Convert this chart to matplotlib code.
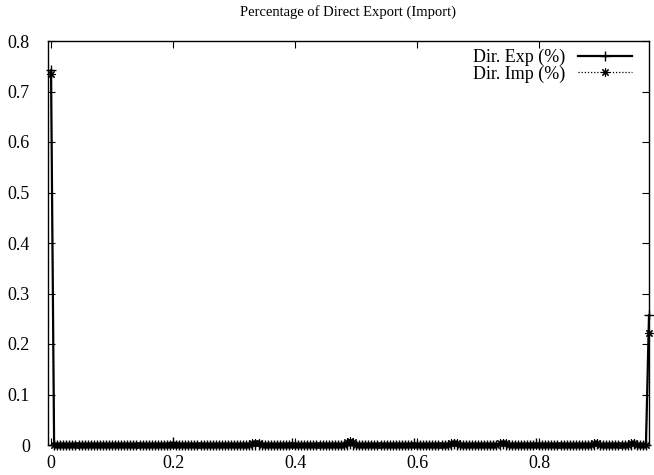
import numpy as np
import matplotlib
matplotlib.use("Agg")
from matplotlib import pyplot as plt
from matplotlib.ticker import FuncFormatter

# share of direct export / import, sampled on a grid from 0 to 0.98
x_step = 0.005
exp_pct = [
    0.742, 0, 0, 0, 0, 0, 0, 0, 0, 0, 0, 0, 0, 0, 0, 0, 0, 0, 0, 0,
    0, 0, 0, 0, 0, 0, 0, 0, 0, 0, 0, 0, 0, 0, 0, 0, 0, 0, 0, 0,
    0.005, 0, 0, 0, 0, 0, 0, 0, 0, 0, 0, 0, 0, 0, 0, 0, 0, 0, 0, 0,
    0, 0, 0, 0, 0, 0, 0, 0, 0, 0, 0, 0, 0, 0, 0, 0, 0, 0, 0, 0.004,
    0, 0, 0, 0, 0, 0, 0, 0, 0, 0, 0, 0, 0, 0, 0, 0, 0, 0, 0.002, 0,
    0, 0, 0, 0, 0, 0, 0, 0, 0, 0, 0, 0, 0, 0, 0, 0, 0, 0, 0, 0.004,
    0, 0, 0, 0, 0, 0, 0, 0, 0, 0, 0, 0, 0.002, 0, 0, 0, 0, 0, 0, 0,
    0, 0, 0, 0, 0, 0, 0, 0, 0.002, 0, 0, 0, 0, 0, 0, 0, 0, 0, 0, 0.003,
    0, 0, 0, 0, 0, 0, 0, 0, 0, 0, 0, 0, 0, 0, 0, 0, 0, 0, 0, 0.002,
    0, 0, 0, 0, 0, 0, 0, 0, 0, 0, 0, 0.002, 0, 0, 0, 0, 0.257,
]
imp_pct = [
    0.734, 0, 0, 0, 0, 0, 0, 0, 0, 0, 0, 0, 0, 0, 0, 0, 0, 0, 0, 0,
    0, 0, 0, 0, 0, 0, 0, 0, 0, 0, 0, 0, 0, 0, 0, 0, 0, 0, 0, 0,
    0, 0, 0, 0, 0, 0, 0, 0, 0, 0, 0, 0, 0, 0, 0, 0, 0, 0, 0, 0,
    0, 0, 0, 0, 0, 0, 0.003, 0.004, 0.003, 0, 0, 0, 0, 0, 0, 0, 0, 0, 0, 0,
    0, 0, 0, 0, 0, 0, 0, 0, 0, 0, 0, 0, 0, 0, 0, 0, 0, 0.006, 0.008, 0.006,
    0, 0, 0, 0, 0, 0, 0, 0, 0, 0, 0, 0, 0, 0, 0, 0, 0, 0, 0, 0,
    0, 0, 0, 0, 0, 0, 0, 0, 0, 0, 0, 0.003, 0.004, 0.003, 0, 0, 0, 0, 0, 0,
    0, 0, 0, 0, 0, 0, 0, 0.003, 0.004, 0.003, 0, 0, 0, 0, 0, 0, 0, 0, 0, 0,
    0, 0, 0, 0, 0, 0, 0, 0, 0, 0, 0, 0, 0, 0, 0, 0, 0, 0, 0.003, 0.003,
    0, 0, 0, 0, 0, 0, 0, 0, 0, 0, 0.003, 0.003, 0, 0, 0, 0, 0.221,
]
x = np.arange(len(exp_pct)) * x_step

xticks = [0, 0.2, 0.4, 0.6, 0.8]
yticks = [0, 0.1, 0.2, 0.3, 0.4, 0.5, 0.6, 0.7, 0.8]

plt.rcParams['font.family'] = ['Liberation Serif', 'DejaVu Serif']

fig = plt.figure(figsize=(6.54, 4.75), dpi=100)
ax = fig.add_axes([48/654, 30/475, 601/654, 404/475])

asterisk = (8, 2, 0)
ax.plot(x, exp_pct, color='black', lw=1.6, marker='+', ms=7, mew=1.0,
        label='Dir. Exp (%)', clip_on=False, zorder=3)
ax.plot(x, imp_pct, color='black', lw=0.9, ls=(0, (1, 1.5)), marker=asterisk,
        ms=6, mew=0.8, label='Dir. Imp (%)', clip_on=False, zorder=3)

ax.set_xlim(-0.005, x[-1])
ax.set_ylim(0, 0.8)
ax.set_xticks(xticks)
ax.set_yticks(yticks)
fmt = FuncFormatter(lambda v, p: '%g' % round(v, 3))
ax.xaxis.set_major_formatter(fmt)
ax.yaxis.set_major_formatter(fmt)
ax.tick_params(direction='in', length=5, width=0.8, top=True, right=True,
               labelsize=13)
ax.tick_params(axis='y', pad=13)
ax.tick_params(axis='x', pad=7)
for s in ax.spines.values():
    s.set_linewidth(1.0)

ax.set_title('Percentage of Direct Export (Import)', fontsize=10.5, pad=18)

ax.legend(loc='upper right', bbox_to_anchor=(632/654, 1 - 49/475),
          bbox_transform=fig.transFigure, frameon=False,
          markerfirst=False, handlelength=3.0, handletextpad=0.7,
          labelspacing=-0.05, borderpad=0, borderaxespad=0, fontsize=13)

fig.savefig('out.png', dpi=100)
